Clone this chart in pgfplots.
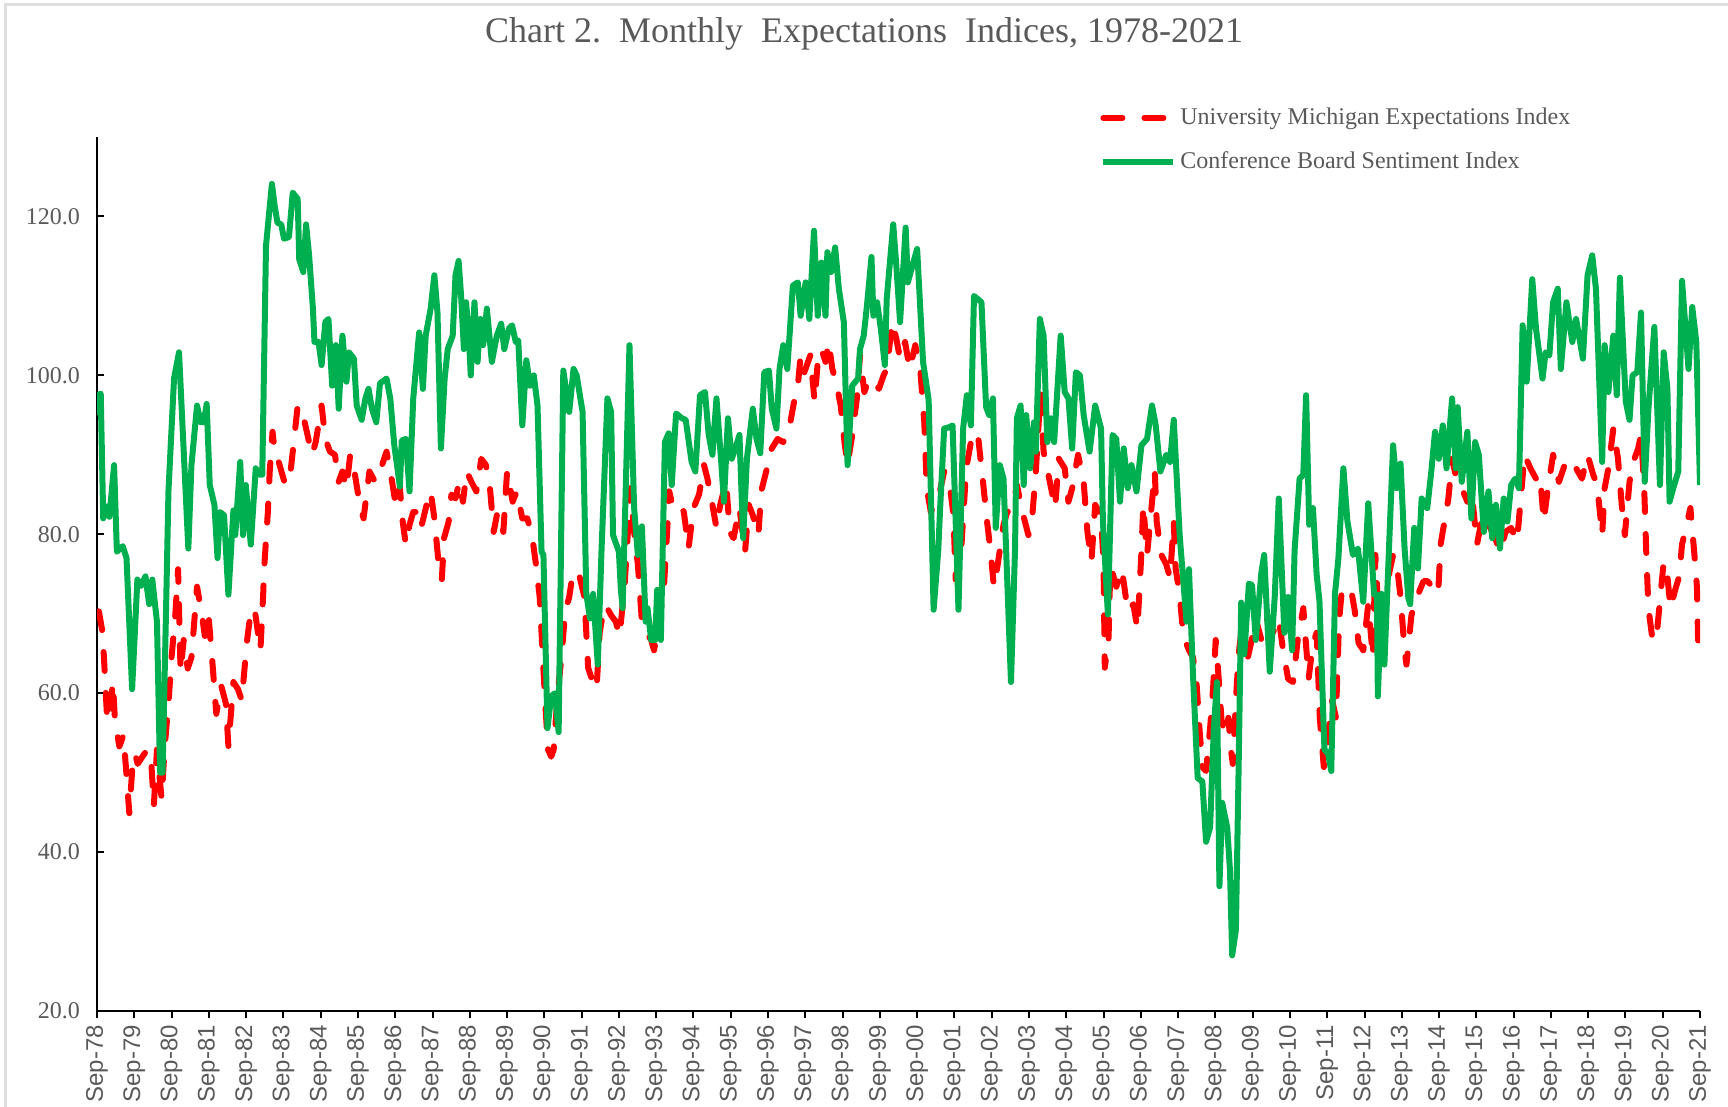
\documentclass[border=0pt]{standalone}
\usepackage{pgfplots}
\pgfplotsset{compat=1.18}
\usepackage{fontspec}
\setmainfont{Liberation Serif}
\newfontfamily\sansf{Liberation Sans}
\definecolor{txtgray}{HTML}{595959}
\definecolor{cgreen}{HTML}{00B050}
\definecolor{cred}{HTML}{FF0000}
\begin{document}
\begin{tikzpicture}
\useasboundingbox (0,0) rectangle (864pt,553.5pt);
\draw[gray!25, line width=1.5pt] (2.5pt,0) -- (2.5pt,551pt) -- (864pt,551pt);
\node[font=\fontsize{18}{22}\selectfont, text=txtgray] at (432pt,536.5pt) {Chart 2.\ \ Monthly\ \ Expectations\ \ Indices, 1978-2021};
\begin{axis}[
  width=801.5pt, height=437pt, scale only axis,
  at={(48.5pt,48pt)}, anchor=south west,
  xmin=0, xmax=516, ymin=20, ymax=130,
  axis lines=left,
  axis line style={-, black, line width=1.2pt},
  xtick={0,12,...,516},
  xticklabels={Sep-78,Sep-79,Sep-80,Sep-81,Sep-82,Sep-83,Sep-84,Sep-85,Sep-86,Sep-87,Sep-88,Sep-89,Sep-90,Sep-91,Sep-92,Sep-93,Sep-94,Sep-95,Sep-96,Sep-97,Sep-98,Sep-99,Sep-00,Sep-01,Sep-02,Sep-03,Sep-04,Sep-05,Sep-06,Sep-07,Sep-08,Sep-09,Sep-10,Sep-11,Sep-12,Sep-13,Sep-14,Sep-15,Sep-16,Sep-17,Sep-18,Sep-19,Sep-20,Sep-21},
  ytick={20,40,60,80,100,120},
  yticklabels={20.0,40.0,60.0,80.0,100.0,120.0},
  xtick align=outside, ytick align=inside,
  major tick length=3.5pt,
  tick style={black, line width=1pt},
  xticklabel style={rotate=90, anchor=east, font=\sansf\fontsize{12}{14}\selectfont, text=txtgray},
  yticklabel style={font=\fontsize{12}{14}\selectfont, text=txtgray, xshift=-5pt},
  legend style={at={(rel axis cs:0.6257,1.038)}, anchor=north west, draw=none, fill=none,
    font=\fontsize{12}{14}\selectfont, text=txtgray, row sep=8pt, inner sep=0pt,
    /tikz/every even column/.append style={column sep=0pt}},
  legend cell align=left,
  legend image code/.code={\draw[#1] (0pt,0pt) -- (35pt,0pt);},
]
\addplot[cred, line width=3pt, dash pattern=on 9.5pt off 11pt, line cap=round, line join=round] table[row sep=\\] {
m v\\
0.6 70.3\\ 1.8 67.6\\ 2.3 64.0\\ 3.3 56.5\\ 4.2 57.8\\ 5.1 61.4\\ 5.8 56.5\\ 7.2 53.3\\ 8.5 54.7\\ 9.4 50.2\\
10.4 44.9\\ 11.3 50.2\\ 12.2 52.4\\ 13.1 51.1\\ 14.6 52.0\\ 16.2 52.9\\ 17.5 51.1\\ 18.3 45.8\\ 19.3 52.9\\ 20.8 46.7\\
21.8 53.3\\ 23.0 58.7\\ 24.0 64.5\\ 25.2 69.8\\ 26.1 75.6\\ 26.9 62.7\\ 27.9 66.7\\ 29.2 63.1\\ 30.4 64.5\\ 32.2 73.4\\
33.8 69.8\\ 34.7 67.2\\ 35.9 69.8\\ 37.2 63.6\\ 38.4 57.4\\ 40.0 60.9\\ 41.5 58.7\\ 42.3 53.3\\ 43.9 61.4\\ 45.4 60.5\\
46.6 59.1\\ 48.2 66.3\\ 49.5 70.3\\ 50.7 70.7\\ 52.6 65.4\\ 53.5 72.5\\ 53.8 75.7\\ 55.0 82.8\\ 55.6 87.9\\ 56.5 92.9\\
57.5 89.5\\ 58.5 89.1\\ 60.6 86.2\\ 62.2 87.5\\ 63.6 92.5\\ 64.6 96.2\\ 66.1 95.4\\ 67.3 93.3\\ 69.2 90.0\\ 70.4 91.6\\
72.3 96.2\\ 73.5 92.0\\ 75.0 90.4\\ 76.6 90.0\\ 77.8 86.6\\ 79.0 87.9\\ 80.3 85.8\\ 81.5 90.0\\ 82.7 88.3\\ 84.6 83.7\\
85.8 82.0\\ 87.7 87.9\\ 89.5 86.6\\ 90.7 87.5\\ 93.2 90.4\\ 95.0 86.6\\ 96.3 83.3\\ 97.5 85.8\\ 98.4 81.6\\ 99.4 78.7\\
100.6 81.2\\ 101.8 82.8\\ 103.0 82.8\\ 104.3 80.8\\ 106.1 83.7\\ 107.4 85.4\\ 108.6 82.0\\ 109.8 77.0\\ 111.0 74.3\\ 111.7 79.5\\
113.2 81.6\\ 114.1 85.0\\ 115.4 84.5\\ 116.6 86.6\\ 117.8 84.1\\ 119.0 87.9\\ 120.5 86.6\\ 122.1 85.4\\ 123.7 89.5\\ 125.2 88.7\\
126.5 85.8\\ 127.7 80.3\\ 128.9 82.8\\ 130.8 80.3\\ 132.0 87.9\\ 133.8 84.1\\ 135.1 85.4\\ 136.9 82.0\\ 138.5 82.0\\ 140.0 79.9\\
141.2 76.5\\ 142.5 72.1\\ 143.5 64.5\\ 144.3 58.7\\ 145.2 52.9\\ 146.2 52.0\\ 147.0 52.9\\ 148.3 60.0\\ 149.5 64.5\\ 150.7 70.3\\
152.0 72.1\\ 153.2 75.2\\ 155.0 75.2\\ 156.9 72.1\\ 158.1 63.2\\ 159.6 61.4\\ 160.8 60.5\\ 161.8 67.6\\ 162.4 69.0\\ 163.7 71.1\\
165.5 69.8\\ 167.0 69.0\\ 168.2 67.2\\ 169.8 73.4\\ 171.1 81.6\\ 171.7 85.8\\ 172.9 80.3\\ 174.1 76.2\\ 175.4 69.0\\ 176.8 67.6\\
178.4 66.7\\ 179.3 65.4\\ 180.9 69.0\\ 182.5 73.4\\ 183.4 79.5\\ 184.2 85.4\\ 185.2 83.7\\ 187.1 84.1\\ 188.9 82.8\\ 190.4 78.2\\
192.0 83.3\\ 193.8 85.0\\ 195.4 88.7\\ 196.5 87.0\\ 198.1 83.7\\ 199.4 80.8\\ 200.6 83.7\\ 202.5 86.6\\ 203.7 80.3\\ 204.9 79.5\\
206.8 83.3\\ 208.6 77.8\\ 209.8 83.7\\ 211.1 82.4\\ 212.9 79.9\\ 213.8 85.4\\ 215.4 87.9\\ 217.2 90.8\\ 219.1 92.0\\ 220.9 91.6\\
222.8 93.3\\ 224.4 96.7\\ 225.6 98.7\\ 226.5 102.5\\ 227.7 100.4\\ 229.6 102.5\\ 231.0 96.7\\ 232.0 101.7\\ 233.2 103.3\\ 234.5 101.7\\
235.5 104.2\\ 236.7 100.8\\ 237.9 99.2\\ 239.4 96.2\\ 240.6 91.6\\ 241.6 88.7\\ 243.1 92.5\\ 244.6 97.1\\ 245.6 102.5\\ 247.0 97.9\\
248.6 99.6\\ 250.2 99.2\\ 251.7 98.3\\ 253.2 100.0\\ 254.2 100.8\\ 256.0 106.7\\ 257.3 104.6\\ 258.5 102.1\\ 260.1 104.2\\ 261.6 100.8\\
263.4 103.8\\ 265.0 100.8\\ 266.3 94.1\\ 267.1 85.8\\ 268.4 82.8\\ 269.6 83.7\\ 270.8 84.5\\ 272.7 87.9\\ 274.5 86.2\\ 275.7 82.4\\
276.4 74.3\\ 278.2 78.2\\ 279.8 88.3\\ 281.3 91.6\\ 282.5 92.9\\ 283.7 92.0\\ 285.2 86.6\\ 286.5 81.6\\ 287.6 78.0\\ 288.7 73.4\\
289.9 76.1\\ 291.8 81.2\\ 293.0 82.8\\ 294.8 83.3\\ 296.1 86.2\\ 297.9 82.8\\ 299.8 79.9\\ 301.0 82.0\\ 302.2 87.9\\ 303.7 97.9\\
304.7 90.4\\ 306.5 87.0\\ 308.4 83.3\\ 309.6 89.5\\ 311.5 88.3\\ 312.7 84.1\\ 313.9 85.8\\ 315.8 90.0\\ 317.6 86.6\\ 318.8 80.3\\
320.1 76.6\\ 321.3 83.7\\ 323.2 82.4\\ 324.0 76.2\\ 324.4 63.2\\ 325.6 66.7\\ 326.2 76.1\\ 328.1 73.4\\ 329.9 75.6\\ 331.8 70.3\\
333.6 71.2\\ 334.9 68.1\\ 336.1 77.0\\ 336.8 83.7\\ 338.0 77.4\\ 339.3 82.8\\ 340.5 87.9\\ 341.1 81.6\\ 342.6 77.4\\ 344.2 76.2\\
345.4 74.5\\ 346.6 81.6\\ 347.2 75.7\\ 348.5 72.4\\ 349.7 67.2\\ 351.5 65.4\\ 352.8 64.5\\ 354.0 60.9\\ 354.8 56.0\\ 355.8 50.7\\
357.0 50.2\\ 358.3 55.6\\ 359.3 60.9\\ 360.1 66.7\\ 361.0 62.2\\ 362.0 56.5\\ 363.2 54.7\\ 364.2 56.9\\ 365.0 52.9\\ 365.6 51.1\\
366.6 59.1\\ 367.5 64.9\\ 368.7 69.0\\ 369.9 63.6\\ 371.2 65.8\\ 373.0 69.4\\ 374.8 66.7\\ 376.7 69.4\\ 378.5 67.6\\ 380.4 69.4\\
381.8 65.4\\ 383.4 61.8\\ 385.0 61.4\\ 386.5 66.7\\ 388.3 70.7\\ 390.0 61.8\\ 391.4 66.3\\ 392.6 67.6\\ 393.6 56.9\\ 394.9 50.7\\
396.3 54.7\\ 397.6 59.1\\ 398.8 56.9\\ 399.8 69.0\\ 400.6 72.5\\ 402.5 72.1\\ 403.7 73.0\\ 404.9 70.3\\ 406.1 66.3\\ 407.6 65.4\\
409.2 71.2\\ 410.7 64.5\\ 411.5 77.4\\ 412.5 69.9\\ 413.5 66.7\\ 414.7 71.2\\ 416.0 75.2\\ 417.2 77.4\\ 418.4 76.2\\ 419.6 72.1\\
420.9 65.4\\ 421.5 63.6\\ 423.1 69.8\\ 425.2 72.4\\ 427.0 74.1\\ 428.3 74.1\\ 431.7 72.5\\ 432.5 78.7\\ 433.4 80.8\\ 435.0 84.5\\
436.2 89.5\\ 437.8 86.6\\ 439.3 85.8\\ 441.1 84.1\\ 442.4 85.8\\ 444.2 78.7\\ 446.0 82.4\\ 447.9 81.2\\ 449.7 79.9\\ 451.6 77.8\\
453.4 80.3\\ 455.2 80.8\\ 457.1 79.1\\ 458.3 84.5\\ 459.5 90.0\\ 461.4 88.3\\ 463.2 87.0\\ 464.5 87.5\\ 465.7 81.6\\ 466.9 85.4\\
468.7 90.0\\ 470.6 86.6\\ 472.4 88.7\\ 474.3 87.5\\ 476.1 88.3\\ 478.0 87.0\\ 479.8 90.0\\ 481.6 87.5\\ 482.9 86.2\\ 484.5 79.9\\
485.3 85.8\\ 486.5 88.3\\ 488.1 93.3\\ 489.6 89.5\\ 490.8 83.7\\ 491.8 79.9\\ 493.3 86.6\\ 494.5 89.1\\ 496.1 90.8\\ 497.0 92.5\\
498.0 86.2\\ 498.8 76.5\\ 499.4 70.7\\ 500.7 66.7\\ 501.9 66.7\\ 503.1 71.6\\ 504.3 76.5\\ 505.5 74.7\\ 506.5 70.7\\ 508.0 73.0\\
509.3 74.7\\ 510.2 78.7\\ 511.7 81.2\\ 512.9 83.3\\ 514.2 77.4\\ 515.0 73.4\\ 515.4 66.3\\ 516.0 65.5\\
};
\addlegendentry{University Michigan Expectations Index}
\addplot[cgreen, line width=3pt, line join=round] table[row sep=\\] {
m v\\
0.0 95.0\\ 0.2 97.5\\ 1.2 97.7\\ 2.0 82.0\\ 3.2 83.5\\ 4.0 82.2\\ 5.5 88.7\\ 6.4 77.8\\ 8.3 78.5\\ 9.5 77.0\\
11.3 60.5\\ 13.0 74.3\\ 14.2 73.5\\ 15.6 74.7\\ 16.8 71.2\\ 17.8 74.3\\ 19.3 69.0\\ 20.3 50.0\\ 21.1 50.0\\ 22.2 70.0\\
23.0 85.4\\ 24.8 99.6\\ 26.4 102.9\\ 29.4 78.2\\ 30.4 88.7\\ 32.2 96.2\\ 33.4 94.1\\ 34.4 94.1\\ 35.3 96.4\\ 36.3 86.2\\
37.8 83.7\\ 38.8 77.0\\ 39.6 82.8\\ 40.9 82.4\\ 42.3 72.4\\ 43.9 83.0\\ 44.5 79.9\\ 46.1 89.1\\ 47.0 79.9\\ 47.9 86.2\\
49.5 78.7\\ 51.1 88.3\\ 52.3 87.5\\ 53.2 87.5\\ 54.4 116.3\\ 56.3 124.1\\ 57.2 121.3\\ 58.1 119.2\\ 59.3 119.0\\ 60.2 117.2\\
61.8 117.4\\ 63.0 123.0\\ 64.6 122.2\\ 65.1 114.6\\ 66.4 113.0\\ 67.3 119.0\\ 68.3 115.0\\ 69.5 108.4\\ 70.0 104.2\\ 71.3 104.2\\
72.3 101.3\\ 73.5 106.7\\ 74.5 107.1\\ 75.7 98.7\\ 76.9 103.8\\ 77.8 95.8\\ 79.0 105.0\\ 80.3 99.2\\ 81.1 102.9\\ 82.7 102.1\\
83.6 96.2\\ 85.2 94.4\\ 86.4 97.1\\ 87.4 98.3\\ 88.5 95.8\\ 89.9 94.1\\ 91.1 99.0\\ 93.2 99.6\\ 94.4 97.1\\ 95.7 91.2\\
97.5 86.0\\ 98.1 91.8\\ 99.4 92.0\\ 100.6 85.4\\ 101.8 97.1\\ 103.7 105.4\\ 104.9 98.3\\ 105.8 105.0\\ 107.4 108.4\\ 108.6 112.6\\
109.6 107.9\\ 110.7 90.8\\ 111.9 99.6\\ 112.9 103.3\\ 114.5 105.0\\ 115.4 112.6\\ 116.4 114.4\\ 117.2 110.0\\ 118.1 103.3\\ 118.8 109.2\\
119.7 105.0\\ 120.3 100.0\\ 121.5 109.2\\ 122.5 101.7\\ 123.4 107.1\\ 124.3 103.8\\ 125.5 108.4\\ 127.1 101.7\\ 128.7 105.0\\ 130.1 106.5\\
131.1 103.3\\ 132.6 105.9\\ 133.6 106.3\\ 134.8 104.2\\ 135.6 104.4\\ 136.9 93.7\\ 138.2 101.9\\ 139.4 98.7\\ 140.6 100.0\\ 141.8 96.2\\
143.1 77.8\\ 143.7 77.4\\ 145.0 55.6\\ 146.2 59.6\\ 147.4 60.0\\ 148.6 55.1\\ 150.1 100.6\\ 152.0 95.4\\ 153.4 100.8\\ 154.4 100.0\\
156.3 95.4\\ 157.5 72.5\\ 158.7 69.4\\ 159.7 72.5\\ 161.2 63.6\\ 162.4 78.0\\ 164.3 97.1\\ 165.5 95.4\\ 166.1 79.9\\ 168.0 77.8\\
168.6 73.2\\ 169.2 70.7\\ 170.2 85.8\\ 171.4 103.8\\ 172.9 83.3\\ 174.1 77.4\\ 175.4 81.0\\ 176.6 69.0\\ 177.2 70.7\\ 178.4 66.7\\
179.7 66.7\\ 180.3 73.0\\ 181.5 66.7\\ 182.8 91.6\\ 184.0 92.7\\ 185.0 86.2\\ 186.4 95.2\\ 188.3 94.6\\ 189.5 94.4\\ 191.4 89.1\\
192.6 87.9\\ 194.1 97.5\\ 195.7 97.9\\ 196.9 92.5\\ 198.1 90.0\\ 199.4 97.1\\ 201.0 88.7\\ 201.8 84.1\\ 203.1 94.6\\ 204.3 89.5\\
205.5 90.8\\ 206.8 92.5\\ 208.0 79.5\\ 209.2 89.5\\ 211.1 95.8\\ 212.3 92.0\\ 213.5 90.2\\ 214.8 100.4\\ 216.3 100.6\\ 217.2 95.8\\
218.7 93.3\\ 219.7 100.8\\ 220.9 103.8\\ 222.2 100.8\\ 224.0 111.3\\ 225.6 111.7\\ 226.5 107.5\\ 228.1 111.7\\ 229.3 107.1\\ 230.8 118.2\\
232.0 107.5\\ 233.2 114.2\\ 234.5 107.5\\ 235.1 115.5\\ 236.3 113.0\\ 237.6 116.1\\ 238.8 110.9\\ 240.4 106.7\\ 241.6 88.7\\ 243.1 98.7\\
245.0 99.6\\ 245.6 103.3\\ 246.8 105.0\\ 247.8 108.6\\ 249.3 114.9\\ 249.9 107.5\\ 251.1 109.2\\ 252.3 105.9\\ 253.6 101.3\\ 254.2 109.6\\
256.3 119.0\\ 257.3 113.8\\ 258.5 106.7\\ 260.3 118.6\\ 261.0 111.7\\ 262.2 113.4\\ 264.0 115.9\\ 265.9 101.7\\ 267.7 96.9\\ 269.3 70.5\\
270.8 78.0\\ 271.4 83.3\\ 272.7 93.3\\ 274.5 93.5\\ 275.4 93.7\\ 276.4 81.6\\ 277.3 70.5\\ 278.8 93.3\\ 280.0 97.5\\ 281.3 93.7\\
282.3 110.0\\ 283.5 109.6\\ 284.7 109.2\\ 286.2 96.0\\ 287.2 95.0\\ 288.4 97.1\\ 289.3 80.8\\ 290.6 88.7\\ 291.8 87.0\\ 294.2 61.4\\
295.5 78.0\\ 296.1 94.6\\ 297.3 96.2\\ 298.3 86.2\\ 299.1 95.0\\ 300.4 88.3\\ 301.6 94.1\\ 302.2 90.4\\ 303.5 107.1\\ 304.7 105.0\\
305.9 91.6\\ 307.1 94.6\\ 308.1 91.6\\ 310.2 105.0\\ 311.5 97.9\\ 312.7 97.1\\ 313.9 90.8\\ 315.1 100.4\\ 316.4 100.0\\ 317.6 95.0\\
319.5 90.4\\ 321.3 96.2\\ 323.2 93.3\\ 323.8 81.6\\ 325.4 69.9\\ 326.9 92.5\\ 328.1 92.0\\ 329.3 84.1\\ 330.5 90.8\\ 331.8 85.8\\
333.0 88.7\\ 334.6 85.4\\ 336.2 91.2\\ 338.0 92.0\\ 339.6 96.2\\ 340.8 93.7\\ 342.3 87.9\\ 344.2 90.0\\ 345.4 89.1\\ 346.6 94.4\\
348.5 79.9\\ 349.7 74.0\\ 350.7 69.0\\ 351.5 75.6\\ 352.8 62.2\\ 354.3 49.3\\ 355.8 48.9\\ 357.0 41.3\\ 358.3 43.1\\ 359.5 55.6\\
360.5 61.4\\ 361.3 35.7\\ 362.2 46.2\\ 363.8 43.1\\ 364.7 37.7\\ 365.4 27.0\\ 366.6 30.2\\ 367.5 51.1\\ 368.3 71.4\\ 369.3 64.9\\
370.8 73.8\\ 371.8 73.6\\ 373.0 66.7\\ 374.8 75.2\\ 375.7 77.4\\ 377.5 62.7\\ 379.1 72.1\\ 380.4 84.5\\ 382.2 67.6\\ 383.4 72.1\\
384.7 65.4\\ 385.5 78.0\\ 387.1 87.0\\ 388.3 87.5\\ 389.2 97.5\\ 390.2 81.2\\ 391.4 83.3\\ 392.6 74.9\\ 393.5 71.6\\ 395.1 52.9\\
396.3 52.4\\ 397.3 50.2\\ 398.5 72.5\\ 399.6 77.0\\ 401.2 88.3\\ 402.5 81.6\\ 404.3 77.4\\ 405.9 78.2\\ 407.6 71.5\\ 409.2 83.9\\
411.1 72.4\\ 412.0 72.4\\ 412.3 59.6\\ 413.5 72.5\\ 414.4 63.6\\ 417.2 91.2\\ 418.4 85.8\\ 419.6 88.9\\ 420.9 78.2\\ 422.1 72.0\\
422.7 71.2\\ 424.0 80.8\\ 425.2 75.7\\ 426.4 84.5\\ 428.2 83.3\\ 429.5 87.9\\ 430.7 92.9\\ 431.9 89.5\\ 433.2 93.7\\ 434.4 88.3\\
436.2 97.1\\ 437.4 88.3\\ 438.0 96.0\\ 439.3 86.6\\ 441.1 92.9\\ 442.4 82.0\\ 443.6 91.6\\ 444.8 90.0\\ 446.4 80.3\\ 447.9 85.4\\
449.1 79.5\\ 450.3 83.7\\ 451.6 78.2\\ 452.8 84.5\\ 454.0 81.6\\ 455.2 86.2\\ 456.5 87.0\\ 457.7 85.8\\ 458.9 106.3\\ 460.2 99.2\\
462.0 112.1\\ 463.2 105.9\\ 465.3 99.6\\ 466.3 102.9\\ 467.5 102.5\\ 468.7 109.2\\ 470.2 110.9\\ 471.2 100.8\\ 473.0 109.2\\ 474.9 104.2\\
476.1 107.1\\ 478.3 102.1\\ 479.8 112.6\\ 481.3 115.1\\ 482.5 110.9\\ 484.5 89.1\\ 485.3 103.8\\ 486.5 97.9\\ 488.1 105.0\\ 489.2 97.5\\
490.2 112.3\\ 492.1 96.7\\ 493.3 94.4\\ 494.3 100.0\\ 495.8 100.4\\ 497.0 107.9\\ 498.2 86.6\\ 499.4 95.8\\ 501.3 106.1\\ 503.1 86.2\\
504.3 102.9\\ 505.5 98.3\\ 506.2 84.1\\ 507.4 85.8\\ 509.0 87.9\\ 510.2 111.9\\ 512.3 100.8\\ 513.5 108.6\\ 514.8 104.2\\ 516.0 86.2\\
};
\addlegendentry{Conference Board Sentiment Index}
\end{axis}
\end{tikzpicture}
\end{document}
